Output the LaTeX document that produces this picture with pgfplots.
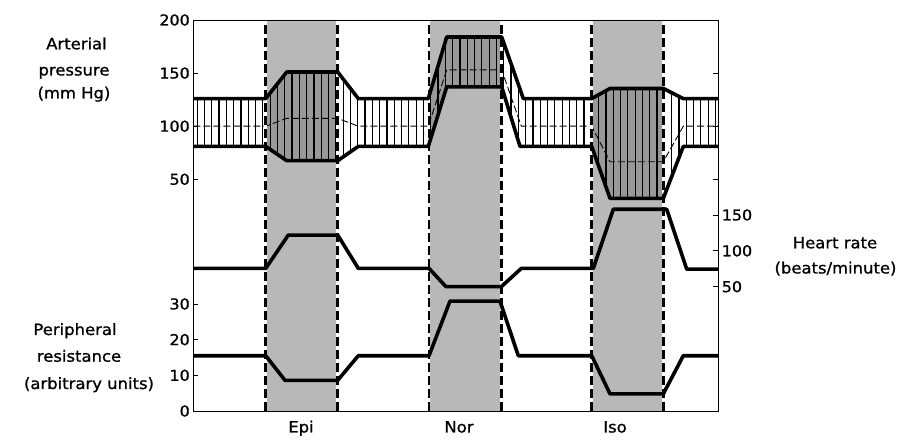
\documentclass[border=0pt]{standalone}
\usepackage{pgfplots}
\pgfplotsset{compat=1.18}
\usepackage{pgfplotstable}
\usetikzlibrary{patterns.meta}
\usepackage{fontspec}
\setmainfont{DejaVu Sans}[FakeStretch=1.06,FakeBold=1]
\newcommand\lbl{\fontsize{15.5}{18}\selectfont}

% Arterial pressure (mm Hg): systolic, diastolic, mean
\pgfplotstableread{
x p
0 126
72.4 126
93.4 151
144.4 151
165 126
235 126
253.4 184
308.4 184
330 126
398.4 126
416.7 135.5
470 135.5
490 126
525 126
}\sys
\pgfplotstableread{
x p
0 81
72.4 81
93.4 67.5
144.4 67.5
165 81
235 81
253.4 137
308.4 137
326.7 81
398.4 81
416.7 32
470 32
490 81
525 81
}\dia
\pgfplotstableread{
x p
0 100
72.4 100
93.4 107.4
144.4 107.4
165 100
235 100
253.4 153
308.4 153
328 100
398.4 100
416.7 66.5
470 66.5
490 100
525 100
}\meanp
% outline of the pressure band (systolic forward, diastolic back)
\pgfplotstableread{
x p
0 126
72.4 126
93.4 151
144.4 151
165 126
235 126
253.4 184
308.4 184
330 126
398.4 126
416.7 135.5
470 135.5
490 126
525 126
525 81
490 81
470 32
416.7 32
398.4 81
326.7 81
308.4 137
253.4 137
235 81
165 81
144.4 67.5
93.4 67.5
72.4 81
0 81
}\band
% Heart rate (beats/minute)
\pgfplotstableread{
x h
0 75.5
72.4 75.5
95 122
144.4 122
165 75.5
235.7 75.5
252.7 50
308 50
328 75.5
400 75.5
420 158
473.4 158
493.4 74.5
525 74.5
}\hr
% Peripheral resistance (arbitrary units)
\pgfplotstableread{
x r
0 15.5
72.4 15.5
91.7 8.6
144.4 8.6
165 15.5
235.7 15.5
256.7 30.8
306.7 30.8
325 15.5
398.4 15.5
416.7 4.8
470 4.8
490 15.5
525 15.5
}\res

\pgfplotsset{
  common/.style={
    scale only axis, width=525pt, height=391pt,
    xmin=0, xmax=525,
    tick align=inside, major tick length=5pt,
    tick style={black, line width=0.8pt},
    tick label style={font=\fontsize{15}{18}\selectfont},
    /pgf/number format/assume math mode=true,
    axis line style={line width=0.9pt},
  },
  thick curve/.style={black, line width=3.6pt, line join=round, line cap=butt},
  period fill/.style={fill=black!28, draw=none},
  darkband/.style={fill=black!40, draw=none},
}

\begin{document}
\begin{tikzpicture}
% ---------- A: drug periods and pressure band ----------
\begin{axis}[common, ymin=-168.2, ymax=200, hide axis]
% Epi period: above and below the band
\addplot[period fill] coordinates {(72.4,126) (93.4,151) (144.4,151) (144.4,200) (72.4,200)} -- cycle;
\addplot[period fill] coordinates {(72.4,81) (93.4,67.5) (144.4,67.5) (144.4,-168.2) (72.4,-168.2)} -- cycle;
% Nor period
\addplot[period fill] coordinates {(235.7,128.2) (253.4,184) (308.2,184) (308.2,200) (235.7,200)} -- cycle;
\addplot[period fill] coordinates {(235.7,83.1) (253.4,137) (308.2,137) (308.2,-168.2) (235.7,-168.2)} -- cycle;
% Iso period
\addplot[period fill] coordinates {(398.4,126) (416.7,135.5) (470.4,135.3) (470.4,200) (398.4,200)} -- cycle;
\addplot[period fill] coordinates {(398.4,81) (416.7,32) (470.4,33) (470.4,-168.2) (398.4,-168.2)} -- cycle;
% darker band inside the periods
\addplot[darkband] coordinates {(72.4,126) (93.4,151) (144.4,151) (144.4,67.5) (93.4,67.5) (72.4,81)} -- cycle;
\addplot[darkband] coordinates {(235.7,128.2) (253.4,184) (308.2,184) (308.2,137) (253.4,137) (235.7,83.1)} -- cycle;
\addplot[darkband] coordinates {(398.4,126) (416.7,135.5) (470.4,135.3) (470.4,33) (416.7,32) (398.4,81)} -- cycle;
% hatching of the band
\addplot[pattern={Lines[angle=90,distance=7.3pt,line width=1.2pt]}, pattern color=black, draw=none] table[x=x,y=p] {\band} -- cycle;
\addplot[black, line width=0.9pt, dash pattern=on 7pt off 3pt] table[x=x,y=p] {\meanp};
\end{axis}
% ---------- C: pressure axis (frame) ----------
\begin{axis}[common,
  ymin=-168.2, ymax=200,
  xtick=\empty, ytick={50,100,150,200},
  axis on top,
]
\addplot[white, line width=2.8pt] coordinates {(72.4,-168.2) (72.4,200)};
\addplot[white, line width=2.8pt] coordinates {(144.4,-168.2) (144.4,200)};
\addplot[white, line width=2.8pt] coordinates {(235.7,-168.2) (235.7,200)};
\addplot[white, line width=2.8pt] coordinates {(308.2,-168.2) (308.2,200)};
\addplot[white, line width=2.8pt] coordinates {(398.4,-168.2) (398.4,200)};
\addplot[white, line width=2.8pt] coordinates {(470.4,-168.2) (470.4,200)};
\addplot[black, line width=2.8pt, dash pattern=on 9pt off 4pt] coordinates {(72.4,-168.2) (72.4,200)};
\addplot[black, line width=2.8pt, dash pattern=on 9pt off 4pt] coordinates {(144.4,-168.2) (144.4,200)};
\addplot[black, line width=2.8pt, dash pattern=on 9pt off 4pt] coordinates {(235.7,-168.2) (235.7,200)};
\addplot[black, line width=2.8pt, dash pattern=on 9pt off 4pt] coordinates {(308.2,-168.2) (308.2,200)};
\addplot[black, line width=2.8pt, dash pattern=on 9pt off 4pt] coordinates {(398.4,-168.2) (398.4,200)};
\addplot[black, line width=2.8pt, dash pattern=on 9pt off 4pt] coordinates {(470.4,-168.2) (470.4,200)};
\addplot[thick curve] table[x=x,y=p] {\sys};
\addplot[thick curve] table[x=x,y=p] {\dia};
\end{axis}
% ---------- D: resistance axis ----------
\begin{axis}[common,
  ymin=0, ymax=109.6,
  hide x axis, axis y line*=left,
  ytick={0,10,20,30},
]
\addplot[thick curve] table[x=x,y=r] {\res};
\end{axis}
% ---------- E: heart rate axis ----------
\begin{axis}[common,
  ymin=-123.4, ymax=422,
  hide x axis, axis y line*=right,
  ytick={50,100,150},
]
\addplot[thick curve] table[x=x,y=h] {\hr};
\end{axis}
% ---------- labels ----------
\node[anchor=base, font=\lbl] at (-116.8pt,361.7pt) {Arterial};
\node[anchor=base, font=\lbl] at (-119.3pt,335.5pt) {pressure};
\node[anchor=base, font=\lbl] at (-119.3pt,312.5pt) {(mm Hg)};
\node[anchor=base, font=\lbl] at (-118.3pt,76pt) {Peripheral};
\node[anchor=base, font=\lbl] at (-114.3pt,49.3pt) {resistance};
\node[anchor=base, font=\lbl] at (-104.3pt,22pt) {(arbitrary units)};
\node[anchor=base, font=\lbl] at (641.7pt,162.7pt) {Heart rate};
\node[anchor=base, font=\lbl] at (642.2pt,137.5pt) {(beats/minute)};
\node[anchor=base, font=\lbl] at (107.7pt,-21.5pt) {Epi};
\node[anchor=base, font=\lbl] at (265.7pt,-21.5pt) {Nor};
\node[anchor=base, font=\lbl] at (421.7pt,-21.5pt) {Iso};
\pgfresetboundingbox
\path (-193.3pt,-30pt) rectangle (708.7pt,411pt);
\end{tikzpicture}
\end{document}
